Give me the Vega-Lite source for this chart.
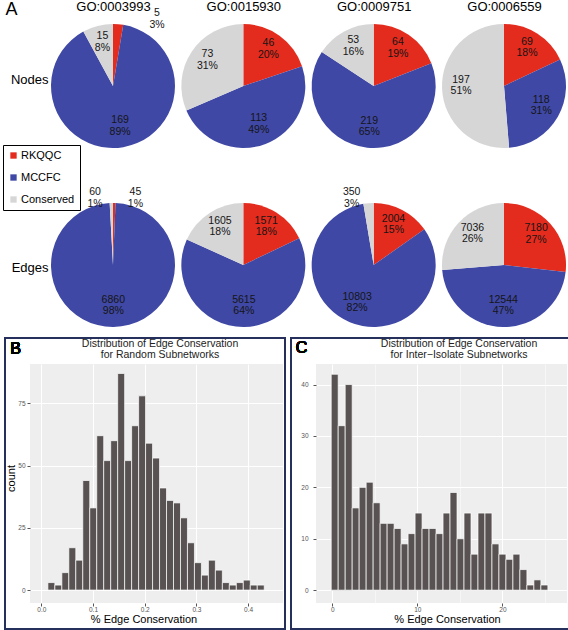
{
  "$schema": "https://vega.github.io/schema/vega-lite/v6.json",
  "padding": {"left": 2, "right": 2, "top": 0, "bottom": 0},
  "background": "white",
  "title": {"text": "A", "anchor": "start", "fontSize": 18, "fontWeight": "normal", "offset": -19, "dx": 3, "frame": "bounds", "color": "black"},
  "config": {"font": "Liberation Sans", "view": {"stroke": null}},
  "datasets": {
    "pies": [
      {"set": "Nodes", "go": "GO:0003993", "cat": "RKQQC", "count": 5, "pct": 3},
      {"set": "Nodes", "go": "GO:0003993", "cat": "MCCFC", "count": 169, "pct": 89},
      {"set": "Nodes", "go": "GO:0003993", "cat": "Conserved", "count": 15, "pct": 8},
      {"set": "Nodes", "go": "GO:0015930", "cat": "RKQQC", "count": 46, "pct": 20},
      {"set": "Nodes", "go": "GO:0015930", "cat": "MCCFC", "count": 113, "pct": 49},
      {"set": "Nodes", "go": "GO:0015930", "cat": "Conserved", "count": 73, "pct": 31},
      {"set": "Nodes", "go": "GO:0009751", "cat": "RKQQC", "count": 64, "pct": 19},
      {"set": "Nodes", "go": "GO:0009751", "cat": "MCCFC", "count": 219, "pct": 65},
      {"set": "Nodes", "go": "GO:0009751", "cat": "Conserved", "count": 53, "pct": 16},
      {"set": "Nodes", "go": "GO:0006559", "cat": "RKQQC", "count": 69, "pct": 18},
      {"set": "Nodes", "go": "GO:0006559", "cat": "MCCFC", "count": 118, "pct": 31},
      {"set": "Nodes", "go": "GO:0006559", "cat": "Conserved", "count": 197, "pct": 51},
      {"set": "Edges", "go": "GO:0003993", "cat": "RKQQC", "count": 45, "pct": 1},
      {"set": "Edges", "go": "GO:0003993", "cat": "MCCFC", "count": 6860, "pct": 98},
      {"set": "Edges", "go": "GO:0003993", "cat": "Conserved", "count": 60, "pct": 1},
      {"set": "Edges", "go": "GO:0015930", "cat": "RKQQC", "count": 1571, "pct": 18},
      {"set": "Edges", "go": "GO:0015930", "cat": "MCCFC", "count": 5615, "pct": 64},
      {"set": "Edges", "go": "GO:0015930", "cat": "Conserved", "count": 1605, "pct": 18},
      {"set": "Edges", "go": "GO:0009751", "cat": "RKQQC", "count": 2004, "pct": 15},
      {"set": "Edges", "go": "GO:0009751", "cat": "MCCFC", "count": 10803, "pct": 82},
      {"set": "Edges", "go": "GO:0009751", "cat": "Conserved", "count": 350, "pct": 3},
      {"set": "Edges", "go": "GO:0006559", "cat": "RKQQC", "count": 7180, "pct": 27},
      {"set": "Edges", "go": "GO:0006559", "cat": "MCCFC", "count": 12544, "pct": 47},
      {"set": "Edges", "go": "GO:0006559", "cat": "Conserved", "count": 7036, "pct": 26}
    ],
    "histB": [
      {"lo": 0.0127, "hi": 0.0262, "count": 3},
      {"lo": 0.0262, "hi": 0.0397, "count": 2},
      {"lo": 0.0397, "hi": 0.0532, "count": 7},
      {"lo": 0.0532, "hi": 0.0667, "count": 17},
      {"lo": 0.0667, "hi": 0.0802, "count": 12},
      {"lo": 0.0802, "hi": 0.0937, "count": 44},
      {"lo": 0.0937, "hi": 0.1072, "count": 33},
      {"lo": 0.1072, "hi": 0.1207, "count": 62},
      {"lo": 0.1207, "hi": 0.1342, "count": 52},
      {"lo": 0.1342, "hi": 0.1477, "count": 60},
      {"lo": 0.1477, "hi": 0.1612, "count": 87},
      {"lo": 0.1612, "hi": 0.1747, "count": 52},
      {"lo": 0.1747, "hi": 0.1882, "count": 66},
      {"lo": 0.1882, "hi": 0.2017, "count": 78},
      {"lo": 0.2017, "hi": 0.2152, "count": 59},
      {"lo": 0.2152, "hi": 0.2287, "count": 53},
      {"lo": 0.2287, "hi": 0.2422, "count": 41},
      {"lo": 0.2422, "hi": 0.2557, "count": 36},
      {"lo": 0.2557, "hi": 0.2692, "count": 35},
      {"lo": 0.2692, "hi": 0.2827, "count": 29},
      {"lo": 0.2827, "hi": 0.2962, "count": 19},
      {"lo": 0.2962, "hi": 0.3097, "count": 11},
      {"lo": 0.3097, "hi": 0.3232, "count": 6},
      {"lo": 0.3232, "hi": 0.3367, "count": 12},
      {"lo": 0.3367, "hi": 0.3502, "count": 8},
      {"lo": 0.3502, "hi": 0.3637, "count": 3},
      {"lo": 0.3637, "hi": 0.3772, "count": 2},
      {"lo": 0.3772, "hi": 0.3907, "count": 3},
      {"lo": 0.3907, "hi": 0.4042, "count": 4},
      {"lo": 0.4042, "hi": 0.4177, "count": 2},
      {"lo": 0.4177, "hi": 0.4312, "count": 2}
    ],
    "histC": [
      {"lo": -0.131, "hi": 0.691, "count": 42},
      {"lo": 0.691, "hi": 1.513, "count": 32},
      {"lo": 1.513, "hi": 2.335, "count": 40},
      {"lo": 2.335, "hi": 3.157, "count": 16},
      {"lo": 3.157, "hi": 3.979, "count": 20},
      {"lo": 3.979, "hi": 4.801, "count": 21},
      {"lo": 4.801, "hi": 5.623, "count": 17},
      {"lo": 5.623, "hi": 6.445, "count": 13},
      {"lo": 6.445, "hi": 7.267, "count": 13},
      {"lo": 7.267, "hi": 8.089, "count": 12},
      {"lo": 8.089, "hi": 8.911, "count": 9},
      {"lo": 8.911, "hi": 9.733, "count": 11},
      {"lo": 9.733, "hi": 10.555, "count": 15},
      {"lo": 10.555, "hi": 11.377, "count": 12},
      {"lo": 11.377, "hi": 12.199, "count": 12},
      {"lo": 12.199, "hi": 13.021, "count": 11},
      {"lo": 13.021, "hi": 13.843, "count": 15},
      {"lo": 13.843, "hi": 14.665, "count": 19},
      {"lo": 14.665, "hi": 15.487, "count": 10},
      {"lo": 15.487, "hi": 16.309, "count": 15},
      {"lo": 16.309, "hi": 17.131, "count": 7},
      {"lo": 17.131, "hi": 17.953, "count": 15},
      {"lo": 17.953, "hi": 18.775, "count": 15},
      {"lo": 18.775, "hi": 19.597, "count": 9},
      {"lo": 19.597, "hi": 20.419, "count": 7},
      {"lo": 20.419, "hi": 21.241, "count": 6},
      {"lo": 21.241, "hi": 22.063, "count": 7},
      {"lo": 22.063, "hi": 22.885, "count": 4},
      {"lo": 22.885, "hi": 23.707, "count": 1},
      {"lo": 23.707, "hi": 24.529, "count": 2},
      {"lo": 24.529, "hi": 25.351, "count": 1}
    ]
  },
  "spacing": 10,
  "vconcat": [
    {
      "width": 536,
      "height": 327,
      "data": {"name": "pies"},
      "transform": [
        {"calculate": "indexof(['RKQQC','MCCFC','Conserved'], datum.cat)", "as": "k"},
        {"stack": "count", "groupby": ["set", "go"], "sort": [{"field": "k", "order": "ascending"}], "offset": "normalize", "as": ["t0", "t1"]},
        {"calculate": "(datum.t0 + datum.t1) / 2", "as": "mid"},
        {"calculate": "datum.count + '\\n' + datum.pct + '%'", "as": "label"}
      ],
      "encoding": {
        "x": {"field": "go", "type": "nominal",
          "scale": {"type": "point", "domain": ["GO:0003993", "GO:0015930", "GO:0009751", "GO:0006559"], "range": [83, 474], "padding": 0},
          "axis": {"orient": "top", "offset": -14, "title": null, "domain": false, "ticks": false, "grid": false, "labelPadding": 1, "labelFontSize": 13, "labelColor": "black", "labelAngle": 0}},
        "y": {"field": "set", "type": "nominal",
          "scale": {"type": "point", "domain": ["Nodes", "Edges"], "range": [86, 265], "padding": 0},
          "axis": {"orient": "left", "offset": -18, "title": null, "domain": false, "ticks": false, "grid": false, "labelPadding": 0, "labelFontSize": 13, "labelColor": "black",
            "labelOffset": {"condition": {"test": "datum.value == 'Nodes'", "value": -7}, "value": 2}}}
      },
      "layer": [
        {
          "mark": {"type": "arc", "outerRadius": 62},
          "encoding": {
            "theta": {"field": "t0", "type": "quantitative", "scale": {"domain": [0, 1]}},
            "theta2": {"field": "t1"},
            "color": {"field": "cat", "type": "nominal",
              "scale": {"domain": ["RKQQC", "MCCFC", "Conserved"], "range": ["#e32b1e", "#3f48a5", "#d6d6d6"]},
              "legend": {"title": null, "orient": "none", "legendX": -27, "legendY": 145, "symbolType": "square", "symbolSize": 40, "labelFontSize": 11, "rowPadding": 10, "strokeColor": "black", "padding": 5, "fillColor": "white", "symbolStrokeWidth": 0, "labelColor": "black", "labelOffset": 2}}
          }
        },
        {
          "transform": [{"filter": "datum.pct >= 5"}],
          "mark": {"type": "text", "radius": 43, "dy": -8, "fontSize": 10.5, "lineHeight": 11.5, "lineBreak": "\n", "fill": "#151515"},
          "encoding": {
            "theta": {"field": "mid", "type": "quantitative", "scale": {"domain": [0, 1]}},
            "text": {"field": "label", "type": "nominal"}
          }
        },
        {
          "transform": [{"filter": "datum.pct < 5 && datum.mid > 0.5"}],
          "mark": {"type": "text", "radius": 72, "dx": -16, "dy": -1, "fontSize": 10.5, "lineHeight": 11.5, "lineBreak": "\n", "fill": "#151515"},
          "encoding": {
            "theta": {"field": "mid", "type": "quantitative", "scale": {"domain": [0, 1]}},
            "text": {"field": "label", "type": "nominal"}
          }
        },
        {
          "transform": [{"filter": "datum.pct < 5 && datum.mid < 0.5 && datum.set == 'Edges'"}],
          "mark": {"type": "text", "radius": 72, "dx": 21, "dy": -1, "fontSize": 10.5, "lineHeight": 11.5, "lineBreak": "\n", "fill": "#151515"},
          "encoding": {
            "theta": {"field": "mid", "type": "quantitative", "scale": {"domain": [0, 1]}},
            "text": {"field": "label", "type": "nominal"}
          }
        },
        {
          "transform": [{"filter": "datum.pct < 5 && datum.mid < 0.5 && datum.set == 'Nodes'"}],
          "mark": {"type": "text", "radius": 72, "dx": 38, "dy": -1, "fontSize": 10.5, "lineHeight": 11.5, "lineBreak": "\n", "fill": "#151515"},
          "encoding": {
            "theta": {"field": "mid", "type": "quantitative", "scale": {"domain": [0, 1]}},
            "text": {"field": "label", "type": "nominal"}
          }
        }
      ]
    },
    {
      "spacing": 4,
      "hconcat": [
        {
          "width": 253,
          "height": 239,
          "data": {"name": "histB"},
          "view": {"fill": "#eeeeee", "stroke": null},
          "title": {"text": ["Distribution of Edge Conservation", "for Random Subnetworks"], "fontSize": 10.5, "fontWeight": "normal", "lineHeight": 11, "offset": -23, "dx": 3.5, "frame": "group", "color": "#222"},
          "layer": [
            {
              "mark": {"type": "rect", "color": "#585252", "stroke": "white", "strokeWidth": 0.7},
              "encoding": {
                "x": {"field": "lo", "type": "quantitative", "scale": {"domain": [-0.0219, 0.4675], "nice": false, "zero": false},
                  "axis": {"values": [0, 0.05, 0.1, 0.15, 0.2, 0.25, 0.3, 0.35, 0.4, 0.45],
                    "labelExpr": "round(datum.value*20)%2==0 ? format(datum.value,'.1f') : ''",
                    "title": "% Edge Conservation", "titleFontSize": 11, "titleFontWeight": "normal", "titleColor": "black", "titlePadding": 0.5, "titleX": 113.5,
                    "labelFontSize": 6.5, "labelColor": "#555", "labelPadding": 0, "labelFlush": false,
                    "tickSize": 3, "tickColor": "#555",
                    "tickOpacity": {"condition": {"test": "round(datum.value*20)%2==1", "value": 0}, "value": 1},
                    "domain": false, "grid": true, "gridColor": "white",
                    "gridWidth": {"condition": {"test": "round(datum.value*20)%2==1", "value": 0.5}, "value": 1}}},
                "x2": {"field": "hi"},
                "y": {"field": "count", "type": "quantitative", "scale": {"domain": [-5.2, 90.8], "nice": false, "zero": false},
                  "axis": {"values": [0, 12.5, 25, 37.5, 50, 62.5, 75, 87.5],
                    "labelExpr": "datum.value % 25 == 0 ? datum.label : ''",
                    "title": "count", "titleFontSize": 11, "titleFontWeight": "normal", "titleColor": "black", "titleX": -19, "titleY": 114, "titleBaseline": "middle",
                    "labelFontSize": 6.5, "labelColor": "#555", "labelPadding": 2, "labelFlush": false,
                    "tickSize": 3, "tickColor": "#555",
                    "tickOpacity": {"condition": {"test": "datum.value % 25 != 0", "value": 0}, "value": 1},
                    "domain": false, "grid": true, "gridColor": "white",
                    "gridWidth": {"condition": {"test": "datum.value % 25 != 0", "value": 0.5}, "value": 1}}},
                "y2": {"datum": 0}
              }
            },
            {
              "mark": {"type": "rect", "fill": null, "stroke": "#27305c", "strokeWidth": 1.5, "clip": false},
              "encoding": {
                "x": {"datum": -0.0703, "type": "quantitative"},
                "x2": {"datum": 0.4714},
                "y": {"datum": 101.24, "type": "quantitative"},
                "y2": {"datum": -15.64}
              }
            },
            {
              "mark": {"type": "text", "fontSize": 16, "fontWeight": "normal", "fill": "black", "clip": false},
              "encoding": {
                "x": {"datum": -0.0499, "type": "quantitative"},
                "y": {"datum": 97.0, "type": "quantitative"},
                "text": {"value": "B"}
              }
            }
          ]
        },
        {
          "width": 251,
          "height": 239,
          "data": {"name": "histC"},
          "view": {"fill": "#eeeeee", "stroke": null},
          "title": {"text": ["Distribution of Edge Conservation", "for Inter\u2212Isolate Subnetworks"], "fontSize": 10.5, "fontWeight": "normal", "lineHeight": 11, "offset": -23, "dx": 17.5, "frame": "group", "color": "#222"},
          "layer": [
            {
              "mark": {"type": "rect", "color": "#585252", "stroke": "white", "strokeWidth": 0.7},
              "encoding": {
                "x": {"field": "lo", "type": "quantitative", "scale": {"domain": [-1.92, 27.6], "nice": false, "zero": false},
                  "axis": {"values": [0, 5, 10, 15, 20, 25],
                    "labelExpr": "datum.value % 10 == 0 ? datum.label : ''",
                    "title": "% Edge Conservation", "titleFontSize": 11, "titleFontWeight": "normal", "titleColor": "black", "titlePadding": 0.5, "titleX": 131,
                    "labelFontSize": 6.5, "labelColor": "#555", "labelPadding": 0, "labelFlush": false,
                    "tickSize": 3, "tickColor": "#555",
                    "tickOpacity": {"condition": {"test": "datum.value % 10 != 0", "value": 0}, "value": 1},
                    "domain": false, "grid": true, "gridColor": "white",
                    "gridWidth": {"condition": {"test": "datum.value % 10 != 0", "value": 0.5}, "value": 1}}},
                "x2": {"field": "hi"},
                "y": {"field": "count", "type": "quantitative", "scale": {"domain": [-2.5, 44.0], "nice": false, "zero": false},
                  "axis": {"values": [0, 5, 10, 15, 20, 25, 30, 35, 40],
                    "labelExpr": "datum.value % 10 == 0 ? datum.label : ''",
                    "title": null,
                    "labelFontSize": 6.5, "labelColor": "#555", "labelPadding": 5, "labelFlush": false,
                    "tickSize": 3, "tickColor": "#555",
                    "tickOpacity": {"condition": {"test": "datum.value % 10 != 0", "value": 0}, "value": 1},
                    "domain": false, "grid": true, "gridColor": "white",
                    "gridWidth": {"condition": {"test": "datum.value % 10 != 0", "value": 0.5}, "value": 1}}},
                "y2": {"datum": 0}
              }
            },
            {
              "mark": {"type": "rect", "fill": null, "stroke": "#27305c", "strokeWidth": 1.5, "clip": false},
              "encoding": {
                "x": {"datum": -4.86, "type": "quantitative"},
                "x2": {"datum": 28.07},
                "y": {"datum": 49.06, "type": "quantitative"},
                "y2": {"datum": -7.56}
              }
            },
            {
              "mark": {"type": "text", "fontSize": 16, "fontWeight": "normal", "fill": "black", "clip": false},
              "encoding": {
                "x": {"datum": -3.62, "type": "quantitative"},
                "y": {"datum": 47.08, "type": "quantitative"},
                "text": {"value": "C"}
              }
            }
          ]
        }
      ]
    }
  ]
}
